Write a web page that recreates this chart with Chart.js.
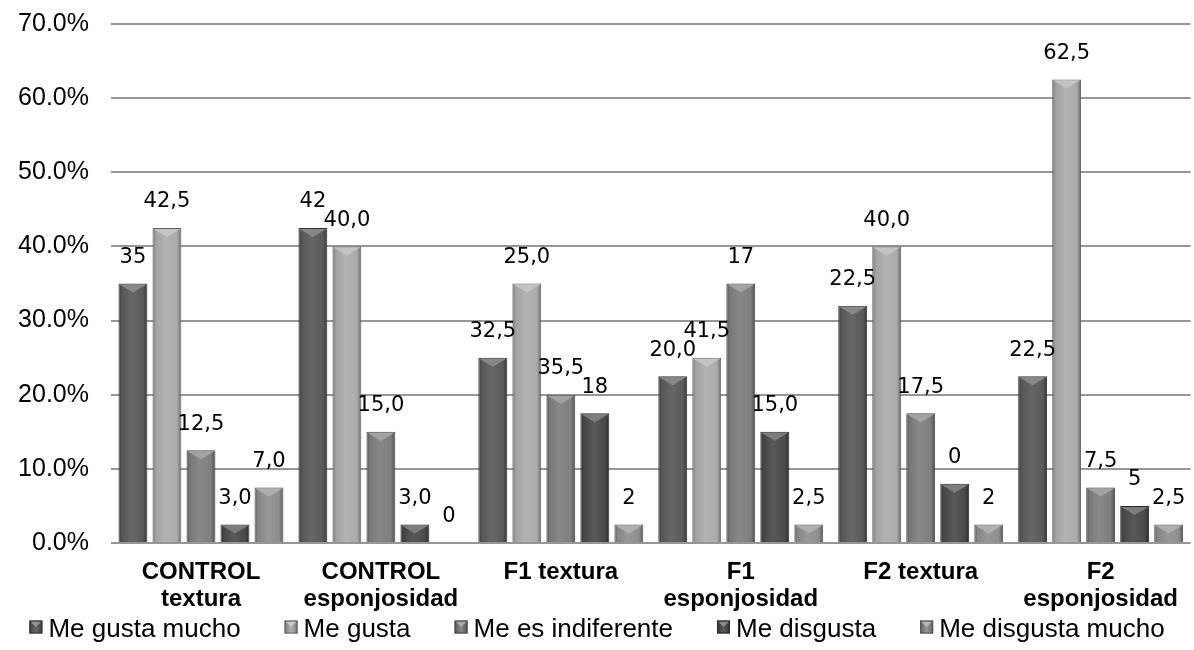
<!DOCTYPE html>
<html>
<head>
<meta charset="utf-8">
<script src="https://cdn.jsdelivr.net/npm/chart.js@4/dist/chart.umd.min.js"></script>
<style>
  html, body { margin: 0; padding: 0; background: #ffffff; }
  #wrap { position: relative; width: 1194px; height: 650px; }
</style>
</head>
<body>
<div id="wrap"><canvas id="c"></canvas></div>
<script>
// ---------- data ----------
const categories = [
  ['CONTROL', 'textura'],
  ['CONTROL', 'esponjosidad'],
  'F1 textura',
  ['F1', 'esponjosidad'],
  'F2 textura',
  ['F2', 'esponjosidad']
];
const seriesNames = ['Me gusta mucho', 'Me gusta', 'Me es indiferente', 'Me disgusta', 'Me disgusta mucho'];

const meGustaMucho     = [35,   42.5, 25,   22.5, 32,   22.5];
const meGusta          = [42.5, 40,   35,   25,   40,   62.5];
const meEsIndiferente  = [12.5, 15,   20,   35,   17.5, 7.5];
const meDisgusta       = [2.5,  2.5,  17.5, 15,   8,    5];
const meDisgustaMucho  = [7.5,  0,    2.5,  2.5,  2.5,  2.5];

// labels printed above the bars (as shown in the original)
const lblMeGustaMucho    = ['35',   '42',   '32,5', '20,0', '22,5', '22,5'];
const lblMeGusta         = ['42,5', '40,0', '25,0', '41,5', '40,0', '62,5'];
const lblMeEsIndiferente = ['12,5', '15,0', '35,5', '17',   '17,5', '7,5'];
const lblMeDisgusta      = ['3,0',  '3,0',  '18',   '15,0', '0',    '5'];
const lblMeDisgustaMucho = ['7,0',  '0',    '2',    '2,5',  '2',    '2,5'];

const yMin = 0, yMax = 70, yStep = 10;

// ---------- styling ----------
const baseColors = ['#5a5a5a', '#ababab', '#7e7e7e', '#4a4a4a', '#8e8e8e'];
const seriesValues = [meGustaMucho, meGusta, meEsIndiferente, meDisgusta, meDisgustaMucho];
const seriesLabels = [lblMeGustaMucho, lblMeGusta, lblMeEsIndiferente, lblMeDisgusta, lblMeDisgustaMucho];

function hexToRgb(h) {
  const n = parseInt(h.slice(1), 16);
  return [(n >> 16) & 255, (n >> 8) & 255, n & 255];
}
function shade(hex, amt) {
  const c = hexToRgb(hex).map(v => {
    const r = amt >= 0 ? v + (255 - v) * amt : v * (1 + amt);
    return Math.max(0, Math.min(255, Math.round(r)));
  });
  return 'rgb(' + c.join(',') + ')';
}
function barFill(base) {
  return (ctx) => {
    if (ctx.type !== 'data') return base;
    const chart = ctx.chart;
    const el = chart.getDatasetMeta(ctx.datasetIndex).data[ctx.dataIndex];
    if (!el || !isFinite(el.x) || !isFinite(el.width) || !el.width) return base;
    const x0 = el.x - el.width / 2;
    const g = chart.ctx.createLinearGradient(x0, 0, x0 + el.width, 0);
    g.addColorStop(0, shade(base, -0.35));
    g.addColorStop(0.12, shade(base, -0.05));
    g.addColorStop(0.45, shade(base, 0.08));
    g.addColorStop(0.85, shade(base, 0.0));
    g.addColorStop(1, shade(base, -0.4));
    return g;
  };
}

const datasets = seriesNames.map((name, i) => ({
  label: name,
  data: seriesValues[i],
  backgroundColor: barFill(baseColors[i]),
  borderColor: shade(baseColors[i], -0.45),
  borderWidth: 1,
  borderSkipped: 'bottom',
  categoryPercentage: 0.945,
  barPercentage: 0.85
}));

// bevel / chevron on top of each bar
const bevelPlugin = {
  id: 'bevel',
  afterDatasetsDraw(chart) {
    const ctx = chart.ctx;
    chart.data.datasets.forEach((ds, di) => {
      const meta = chart.getDatasetMeta(di);
      const base = baseColors[di];
      meta.data.forEach((el) => {
        const h = el.base - el.y;
        if (!(h > 2)) return;
        const x0 = el.x - el.width / 2 + 1, x1 = el.x + el.width / 2 - 1;
        const ch = Math.min(9, h - 1);
        ctx.save();
        ctx.beginPath();
        ctx.moveTo(x0, el.y + 1);
        ctx.lineTo(x1, el.y + 1);
        ctx.lineTo(el.x, el.y + ch);
        ctx.closePath();
        ctx.fillStyle = shade(base, 0.28);
        ctx.fill();
        ctx.restore();
      });
    });
  }
};

// value labels above the bars
const labelPlugin = {
  id: 'valueLabels',
  afterDatasetsDraw(chart) {
    const ctx = chart.ctx;
    ctx.save();
    ctx.font = '21px "DejaVu Sans", sans-serif';
    ctx.fillStyle = '#000000';
    ctx.textAlign = 'center';
    ctx.textBaseline = 'middle';
    chart.data.datasets.forEach((ds, di) => {
      const meta = chart.getDatasetMeta(di);
      meta.data.forEach((el, i) => {
        ctx.fillText(seriesLabels[di][i], el.x, el.y - 26);
      });
    });
    ctx.restore();
  }
};

// legend row under the axis (drawn from the dataset names/colours)
const legendRow = {
  id: 'legendRow',
  afterDraw(chart) {
    const ctx = chart.ctx;
    const font = '26px "Liberation Sans", Arial, sans-serif';
    const box = 13, gapText = 6, gapItem = 44;
    ctx.save();
    ctx.font = font;
    const items = chart.data.datasets.map((ds, i) => ({
      text: ds.label, color: baseColors[i], w: ctx.measureText(ds.label).width
    }));
    const total = items.reduce((s, it) => s + box + gapText + it.w, 0) + gapItem * (items.length - 1);
    let x = (chart.width - total) / 2;
    const cy = 627;
    items.forEach((it) => {
      const by = cy - box / 2;
      const g = ctx.createLinearGradient(x, 0, x + box, 0);
      g.addColorStop(0, shade(it.color, -0.3));
      g.addColorStop(0.5, shade(it.color, 0.08));
      g.addColorStop(1, shade(it.color, -0.3));
      ctx.fillStyle = g;
      ctx.fillRect(x, by, box, box);
      ctx.beginPath();
      ctx.moveTo(x + 1, by + 1);
      ctx.lineTo(x + box - 1, by + 1);
      ctx.lineTo(x + box / 2, by + box / 2);
      ctx.closePath();
      ctx.fillStyle = shade(it.color, 0.35);
      ctx.fill();
      ctx.strokeStyle = shade(it.color, -0.45);
      ctx.lineWidth = 1;
      ctx.strokeRect(x + 0.5, by + 0.5, box - 1, box - 1);
      ctx.fillStyle = '#000000';
      ctx.textAlign = 'left';
      ctx.textBaseline = 'alphabetic';
      ctx.fillText(it.text, x + box + gapText, 637);
      x += box + gapText + it.w + gapItem;
    });
    ctx.restore();
  }
};

const chart = new Chart(document.getElementById('c'), {
  type: 'bar',
  data: { labels: categories, datasets },
  options: {
    responsive: true,
    maintainAspectRatio: false,
    animation: false,
    devicePixelRatio: 1,
    layout: { padding: { top: 0, right: 0, left: 0, bottom: 36 } },
    plugins: {
      tooltip: { enabled: false },
      legend: { display: false }
    },
    scales: {
      x: {
        grid: { display: false, drawTicks: false },
        border: { display: false },
        ticks: {
          color: '#000000',
          padding: 16,
          maxRotation: 0,
          autoSkip: false,
          font: { family: '"Liberation Sans", Arial, sans-serif', size: 24, weight: 'bold', lineHeight: 1.125 }
        },
        afterFit(s) { s.height = 71; }
      },
      y: {
        min: yMin,
        max: yMax,
        grid: { color: '#969696', lineWidth: 2, drawTicks: false },
        border: { display: false },
        ticks: {
          stepSize: yStep,
          color: '#000000',
          padding: 22,
          font: { family: '"Liberation Sans", Arial, sans-serif', size: 25, lineHeight: 0.16 },
          callback: (v) => v.toFixed(1) + '%'
        },
        afterFit(s) { s.width = 111; }
      }
    }
  },
  plugins: [bevelPlugin, labelPlugin, legendRow]
});
chart.update('none');
</script>
</body>
</html>
